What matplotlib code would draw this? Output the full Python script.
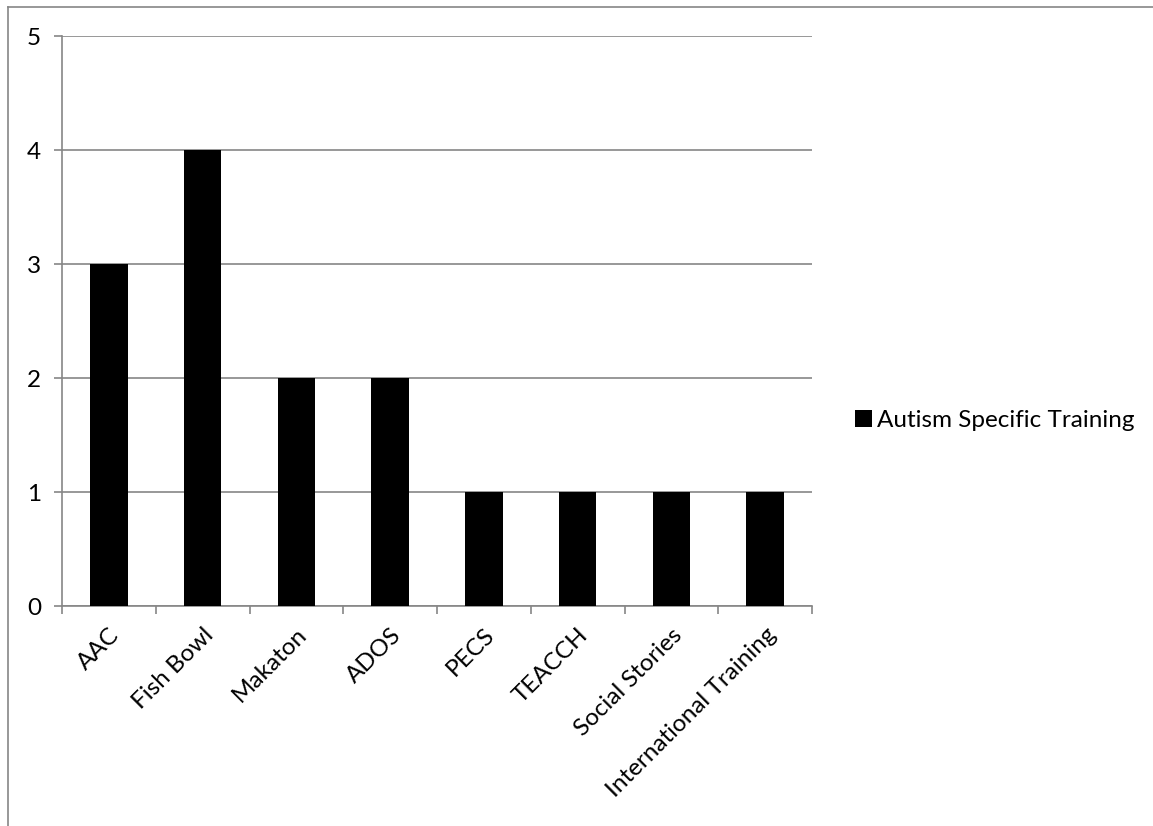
import matplotlib.pyplot as plt
import numpy as np
from matplotlib.lines import Line2D
from matplotlib.transforms import ScaledTranslation

categories = ['AAC', 'Fish Bowl', 'Makaton', 'ADOS', 'PECS', 'TEACCH',
              'Social Stories', 'International Training']
values = [3, 4, 2, 2, 1, 1, 1, 1]
series_name = 'Autism Specific Training'

plt.rcParams['font.family'] = ['Lato', 'DejaVu Sans']
grid_col = '#868686'
fs = 17.5

fig = plt.figure(figsize=(11.53, 8.26), dpi=100)
ax = fig.add_axes([0.0538, 0.2663, 0.6505, 0.6901])

x = np.arange(len(categories))
ax.bar(x, values, width=0.4, color='black', label=series_name, zorder=3)

ax.set_xlim(-0.5, len(categories) - 0.5)
ax.set_ylim(0, 5)
ax.set_yticks(range(0, 6))
ax.yaxis.grid(True, color=grid_col, linewidth=1.2, zorder=0)

ax.set_xticks(np.arange(len(categories) + 1) - 0.5)
ax.set_xticklabels([])
ax.set_xticks(x, minor=True)
ax.set_xticklabels(categories, minor=True, rotation=45, ha='right',
                   rotation_mode='anchor', fontsize=fs)
shift = ScaledTranslation(8 / 100, 0, fig.dpi_scale_trans)
for lbl in ax.get_xticklabels(minor=True):
    lbl.set_transform(lbl.get_transform() + shift)
ax.tick_params(axis='x', which='minor', length=0, pad=13)
ax.tick_params(axis='x', which='major', length=6, color=grid_col, width=1.2)
ax.tick_params(axis='y', length=6, color=grid_col, width=1.2, labelsize=fs, pad=9)

for side in ['top', 'right']:
    ax.spines[side].set_visible(False)
for side in ['left', 'bottom']:
    ax.spines[side].set_color(grid_col)
    ax.spines[side].set_linewidth(1.2)

ax.legend(loc='center left', bbox_to_anchor=(1.057, 0.326), frameon=False,
          fontsize=fs, handlelength=0.7, handleheight=0.7, handletextpad=0.2,
          borderpad=0, borderaxespad=0)

# outer chart border (only top and left visible)
fig.add_artist(Line2D([8 / 1153, 1], [1 - 7 / 826, 1 - 7 / 826],
                      transform=fig.transFigure, color=grid_col, linewidth=1.2))
fig.add_artist(Line2D([8 / 1153, 8 / 1153], [0, 1 - 7 / 826],
                      transform=fig.transFigure, color=grid_col, linewidth=1.2))

fig.savefig('out.png', dpi=100)
